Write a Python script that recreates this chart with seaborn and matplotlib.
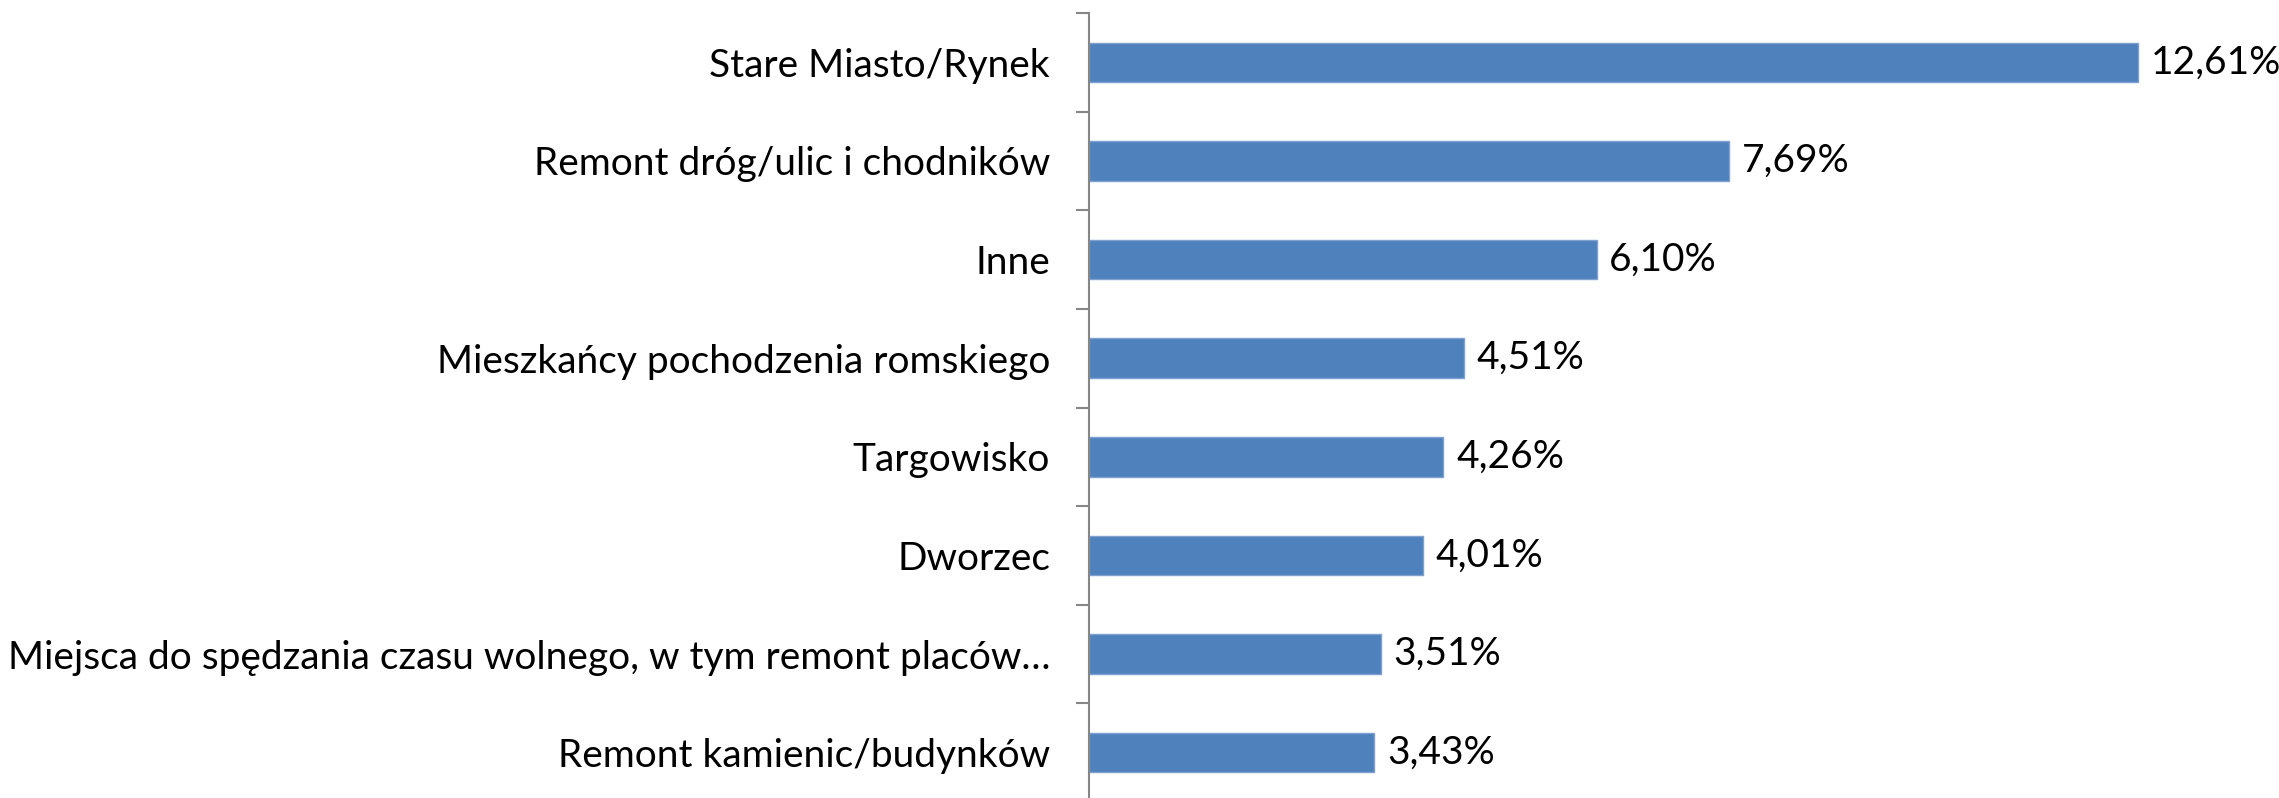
import matplotlib
matplotlib.use("Agg")
import matplotlib.pyplot as plt
import seaborn as sns
import pandas as pd
import numpy as np

categories = [
    "Stare Miasto/Rynek",
    "Remont dróg/ulic i chodników",
    "Inne",
    "Mieszkańcy pochodzenia romskiego",
    "Targowisko",
    "Dworzec",
    "Miejsca do spędzania czasu wolnego, w tym remont placów…",
    "Remont kamienic/budynków",
]
values = [12.61, 7.69, 6.10, 4.51, 4.26, 4.01, 3.51, 3.43]

sns.set_theme(style="white")
plt.rcParams["font.family"] = ["Lato", "DejaVu Sans"]

W, H, DPI = 2279, 798, 100
fig = plt.figure(figsize=(W / DPI, H / DPI), dpi=DPI)
ax_left, ax_top = 1089 / W, 1 - 13 / H
ax_right = 2254 / W
ax_bottom = -4 / H
ax = fig.add_axes([ax_left, ax_bottom, ax_right - ax_left, ax_top - ax_bottom])

df = pd.DataFrame({"cat": categories, "val": values})
sns.barplot(data=df, y="cat", x="val", orient="h", color="#4F81BD",
            width=0.4, saturation=1, edgecolor="#7EA1D0", linewidth=1, ax=ax)

ax.set_xlim(0, 14)
ax.set_ylim(len(categories) - 0.5, -0.5)
ax.set_xlabel("")
ax.set_ylabel("")
ax.set_xticks([])

for s in ["top", "right", "bottom"]:
    ax.spines[s].set_visible(False)
ax.spines["left"].set_color("#868686")
ax.spines["left"].set_linewidth(1.5)

ax.set_yticks(range(len(categories)))
ax.set_yticklabels(categories, fontsize=28, color="black")
ax.tick_params(axis="y", which="major", length=0, pad=28)
ax.set_yticks(np.arange(-0.5, len(categories) + 0.5, 1), minor=True)
ax.tick_params(axis="y", which="minor", length=9.5, width=1.5,
               color="#868686", left=True)

for i, v in enumerate(values):
    ax.annotate(f"{v:.2f}".replace(".", ",") + "%", xy=(v, i),
                xytext=(9, 0), textcoords="offset points",
                ha="left", va="center", fontsize=28, color="black")

fig.savefig("out.png", dpi=DPI)
